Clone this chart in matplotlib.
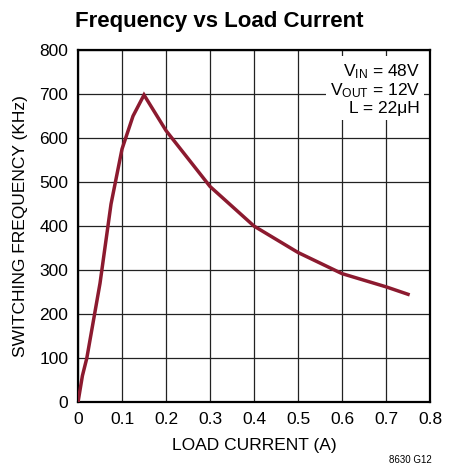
import matplotlib
matplotlib.use('Agg')
import matplotlib.pyplot as plt
from matplotlib import font_manager

names = {f.name for f in font_manager.fontManager.ttflist}
fam = 'Liberation Sans Narrow' if 'Liberation Sans Narrow' in names else 'Liberation Sans'
plt.rcParams['font.family'] = [fam, 'DejaVu Sans']

load_current = [0, 0.01, 0.02, 0.05, 0.075, 0.1, 0.125, 0.15, 0.2, 0.3, 0.4, 0.5, 0.6, 0.7, 0.75]
sw_freq = [0, 60, 100, 270, 450, 575, 650, 698, 617, 490, 400, 340, 292, 262, 245]

x_ticks = [0, 0.1, 0.2, 0.3, 0.4, 0.5, 0.6, 0.7, 0.8]
x_labels = ['0', '0.1', '0.2', '0.3', '0.4', '0.5', '0.6', '0.7', '0.8']
y_ticks = [0, 100, 200, 300, 400, 500, 600, 700, 800]

fig = plt.figure(figsize=(4.57, 4.72), dpi=100)
ax = fig.add_axes([0.1707, 0.148, 0.7703, 0.746])

ax.plot(load_current, sw_freq, color='#8c1a2f', lw=2.5, solid_joinstyle='miter', zorder=3)

ax.set_xlim(0, 0.8)
ax.set_ylim(0, 800)
ax.set_xticks(x_ticks)
ax.set_xticklabels(x_labels)
ax.set_yticks(y_ticks)
ax.grid(True, color='#222222', lw=0.9)
ax.tick_params(length=0, labelsize=12.5, pad=7)
for s in ax.spines.values():
    s.set_linewidth(1.6)

ax.set_xlabel('LOAD CURRENT (A)', fontsize=12.5, labelpad=8)
ax.set_ylabel('SWITCHING FREQUENCY (KHz)', fontsize=12.5, labelpad=8)

fig.text(0.48, 0.955, 'Frequency vs Load Current', ha='center', va='center',
         fontsize=16, fontweight='bold')

ax.text(0.972, 0.965, '$\\mathregular{V_{IN}}$ = 48V\n$\\mathregular{V_{OUT}}$ = 12V\nL = 22μH',
        transform=ax.transAxes, ha='right', va='top', fontsize=12.5, linespacing=1.05,
        bbox=dict(facecolor='white', edgecolor='none', pad=3), zorder=4)

fig.text(0.945, 0.015, '8630 G12', ha='right', va='bottom', fontsize=7)

fig.savefig('out.png', dpi=100)
